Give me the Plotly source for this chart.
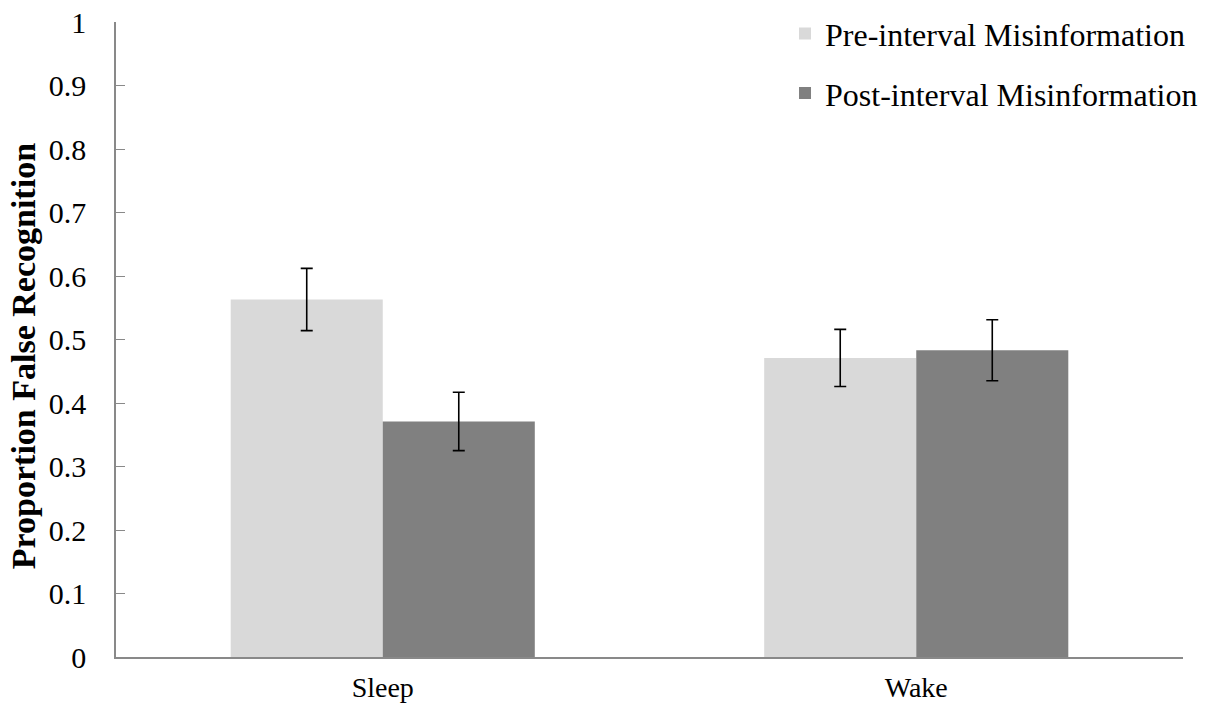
import plotly.graph_objects as go

categories = ["Sleep", "Wake"]
series_names = ["Pre-interval Misinformation", "Post-interval Misinformation"]
pre_values = [0.563, 0.471]
pre_errors = [0.049, 0.045]
post_values = [0.371, 0.483]
post_errors = [0.046, 0.048]
colors = ["#d9d9d9", "#808080"]
y_ticks = [0, 0.1, 0.2, 0.3, 0.4, 0.5, 0.6, 0.7, 0.8, 0.9, 1]
y_tick_labels = ["0", "0.1", "0.2", "0.3", "0.4", "0.5", "0.6", "0.7", "0.8", "0.9", "1"]
y_title = "Proportion False Recognition"

ff = "Liberation Serif"

fig = go.Figure()
for i, (name, vals, errs) in enumerate(zip(series_names, [pre_values, post_values], [pre_errors, post_errors])):
    fig.add_trace(go.Bar(
        x=categories, y=vals, name=name,
        marker=dict(color=colors[i], line=dict(width=0)),
        error_y=dict(type="data", array=errs, visible=True, color="black", thickness=1.6, width=6),
        legendgroup=f"g{i}",
    ))

fig.add_annotation(
    text=f"<b>{y_title}</b>", textangle=-90, xref="paper", yref="paper",
    x=-0.087, y=0.474, xanchor="center", yanchor="middle", showarrow=False,
    font=dict(size=34, family=ff, color="black"),
)

fig.update_layout(
    width=1206, height=711,
    barmode="group", bargap=0.43, bargroupgap=0,
    plot_bgcolor="white", paper_bgcolor="white",
    margin=dict(l=116, r=23, t=22, b=54, autoexpand=False),
    font=dict(family=ff, size=28, color="black"),
    showlegend=True,
    legend=dict(x=0.627, y=1.025, xanchor="left", yanchor="top", bgcolor="rgba(0,0,0,0)",
                tracegroupgap=15, font=dict(size=32, family=ff, color="black"), itemwidth=30),
    xaxis=dict(showline=True, linecolor="#898989", linewidth=1.5, ticks="", showgrid=False,
               automargin=False, ticklabelstandoff=5,
               tickfont=dict(size=28, family=ff, color="black")),
    yaxis=dict(range=[0, 1], tickvals=y_ticks, ticktext=y_tick_labels, showline=True,
               linecolor="#898989", linewidth=1.5, ticks="inside", ticklen=9, tickcolor="#898989",
               showgrid=False, zeroline=False, automargin=False, ticklabelstandoff=22,
               ticklabeloverflow="allow",
               tickfont=dict(size=30, family=ff, color="black")),
)

fig.write_html("out.html", config={"displayModeBar": False},
               post_script="document.body.style.margin='0px';")
